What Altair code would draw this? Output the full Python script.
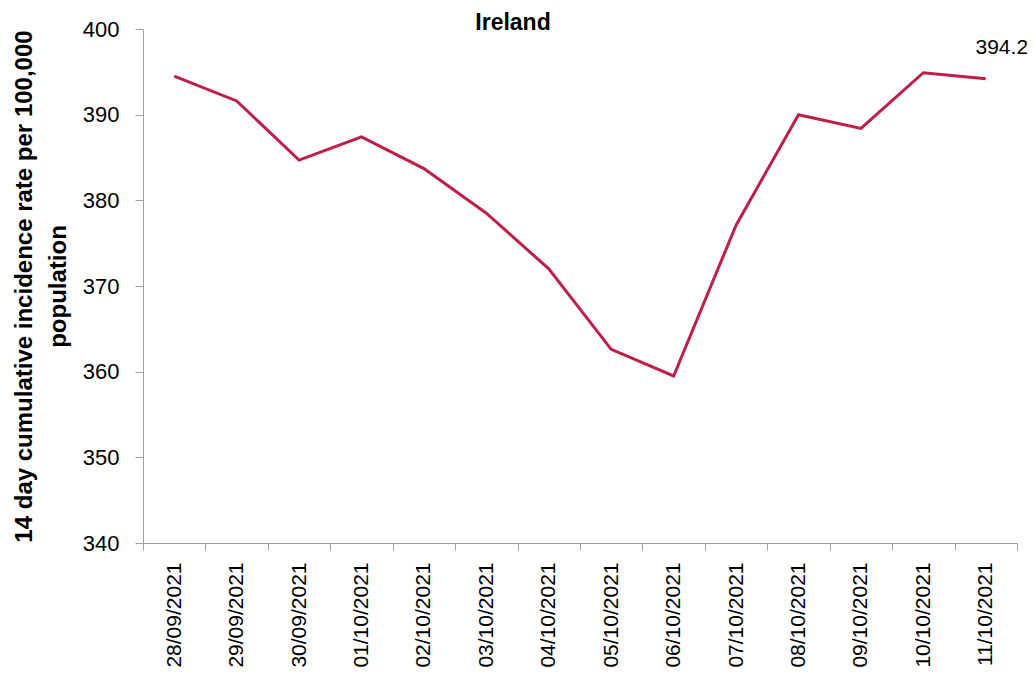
import altair as alt
import pandas as pd

dates = ["28/09/2021", "29/09/2021", "30/09/2021", "01/10/2021", "02/10/2021",
         "03/10/2021", "04/10/2021", "05/10/2021", "06/10/2021", "07/10/2021",
         "08/10/2021", "09/10/2021", "10/10/2021", "11/10/2021"]
values = [394.5, 391.6, 384.7, 387.4, 383.7, 378.5, 372.0, 362.6, 359.5, 377.1,
          390.0, 388.4, 394.9, 394.2]
y_ticks = [340, 350, 360, 370, 380, 390, 400]
last_label = "394.2"

df = pd.DataFrame({"date": dates, "value": values})
df["label"] = [""] * (len(dates) - 1) + [last_label]

FONT = "Liberation Sans"
AX = "#A0A0A0"
LINE = "#BE1E48"

x = alt.X(
    "date:O", sort=dates, bandPosition=0.5,
    scale=alt.Scale(type="band", paddingInner=0, paddingOuter=0),
    axis=alt.Axis(title=None, labelAngle=270, labelAlign="right", labelBaseline="middle",
                  labelPadding=12, tickBand="extent", tickSize=7, domainColor=AX,
                  tickColor=AX, labelFont=FONT, labelFontSize=21, labelColor="black"),
)
y = alt.Y(
    "value:Q",
    scale=alt.Scale(domain=[340, 400], nice=False, zero=False),
    axis=alt.Axis(values=y_ticks, grid=False, tickSize=8, domainColor=AX, tickColor=AX,
                  labelFont=FONT, labelFontSize=22, labelColor="black", labelPadding=16,
                  title=["14 day cumulative incidence rate per 100,000", "population"],
                  titleFont=FONT, titleFontSize=24, titleFontWeight="bold", titleColor="black",
                  titleAngle=270, titleAlign="center", titleBaseline="top",
                  titleX=-131, titleY=257, titleLineHeight=34),
)

line = alt.Chart(df).mark_line(color=LINE, strokeWidth=3).encode(x=x, y=y)

text = alt.Chart(df).transform_filter(alt.datum.label != "").mark_text(
    font=FONT, fontSize=21, color="black", align="center", baseline="alphabetic",
    dx=16, dy=-25,
).encode(x=x, y=y, text="label:N")

chart = alt.layer(line, text).properties(
    width=874, height=514,
    title=alt.TitleParams(text="Ireland", font=FONT, fontSize=23, fontWeight="bold",
                          color="black", anchor="middle", offset=0, dx=-67, dy=17),
    autosize=alt.AutoSizeParams(type="none"),
    padding={"left": 135, "top": 21, "right": 10, "bottom": 130},
    background="white",
).configure_view(stroke=None)

chart.save("out.html", embed_options={"renderer": "svg", "actions": False})
